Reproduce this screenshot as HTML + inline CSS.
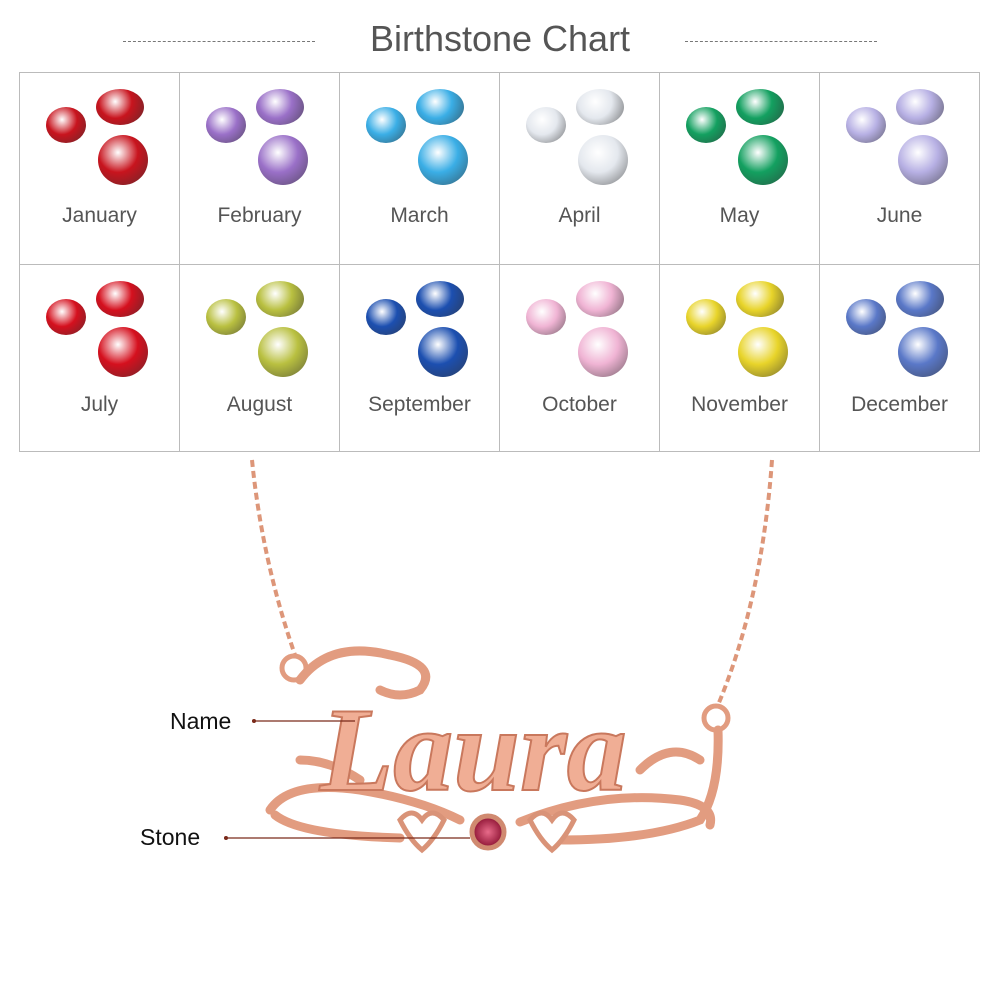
<!DOCTYPE html>
<html><head><meta charset="utf-8"><style>
body{margin:0;width:1000px;height:1000px;background:#fff;position:relative;overflow:hidden;font-family:"Liberation Sans",sans-serif}
.t{position:absolute;top:18px;left:0;width:1000px;text-align:center;font-size:36px;color:#555}
.d{position:absolute;top:41px;width:192px;border-top:1px dashed #777}
table{position:absolute;left:19px;top:72px;border-collapse:collapse}
td{border:1px solid #bbb;width:159px;height:190px;position:relative;padding:0}
.l{position:absolute;left:0;width:100%;text-align:center;font-size:21px;color:#555}
.g{position:absolute;border-radius:50%}
</style></head><body>
<div class="t">Birthstone Chart</div>
<div class="d" style="left:123px"></div><div class="d" style="left:685px"></div>
<table id="tb"></table>
<svg width="1000" height="1000" style="position:absolute;left:0;top:0">
<defs>
<radialGradient id="st"><stop offset="0" stop-color="#e86b8a"/><stop offset="1" stop-color="#8a1030"/></radialGradient></defs>
<g fill="none" stroke="#dd9679" stroke-width="4">
<path d="M252 460 Q262 560 295 655" stroke-dasharray="7 4"/>
<path d="M772 460 Q762 600 718 705" stroke-dasharray="7 4"/>
</g>
<g fill="none" stroke="#e29c80" stroke-width="9" stroke-linecap="round">
<circle cx="294" cy="668" r="12" stroke-width="5"/>
<circle cx="716" cy="718" r="12" stroke-width="5"/>
<path d="M300 680 Q330 640 390 655 Q440 665 420 690 Q400 700 380 690"/>
<path d="M270 810 Q290 780 360 790 Q420 800 460 820"/>
<path d="M275 815 Q300 835 400 838"/>
<path d="M520 822 Q600 790 680 800 Q715 805 710 825"/>
<path d="M560 840 Q650 840 700 820 Q720 790 718 730"/>
<path d="M300 760 Q330 760 360 780"/>
<path d="M640 770 Q670 740 700 760"/>
</g>
<text x="320" y="790" font-family="Liberation Serif,serif" font-style="italic" font-weight="bold" font-size="120" fill="#f0ae95" stroke="#c9785d" stroke-width="2">Laura</text>
<path d="M400 820 q12-14 22 0 q10-14 22 0 q-10 20 -22 30 q-12-10 -22-30Z M530 820 q12-14 22 0 q10-14 22 0 q-10 20 -22 30 q-12-10 -22-30Z" fill="#fff" stroke="#d99378" stroke-width="5"/>
<circle cx="488" cy="832" r="16" fill="url(#st)" stroke="#d08a70" stroke-width="5"/>
<g stroke="#7a2a1a" stroke-width="1.2"><line x1="252" y1="721" x2="355" y2="721"/><line x1="224" y1="838" x2="470" y2="838"/></g>
<circle cx="254" cy="721" r="2" fill="#7a2a1a"/><circle cx="226" cy="838" r="2" fill="#7a2a1a"/>
<text x="170" y="729" font-size="23" fill="#111">Name</text>
<text x="140" y="845" font-size="23" fill="#111">Stone</text>
</svg>
<script>
var m=["January","February","March","April","May","June","July","August","September","October","November","December"];
var c=["#c8141e","#9a70c8","#3aaee6","#e4e8ee","#13a060","#b7b0e4","#d5101e","#b9c040","#1c4fb0","#f0b4d4","#e8d42a","#5a78c8"];
var tb=document.getElementById("tb"),h="";
for(var r=0;r<2;r++){h+="<tr>";for(var k=0;k<6;k++){var i=r*6+k,col=c[i],ly=r?128:131;
var bg='background:radial-gradient(circle at 40% 35%,#fff 0,'+col+' 45%,#333 130%)';
h+='<td style="height:'+(r?186:191)+'px">'+
'<div class="g" style="left:26px;top:34px;width:40px;height:36px;'+bg+'"></div>'+
'<div class="g" style="left:76px;top:16px;width:48px;height:36px;'+bg+'"></div>'+
'<div class="g" style="left:78px;top:62px;width:50px;height:50px;'+bg+'"></div>'+
'<div class="l" style="top:'+ly+'px">'+m[i]+'</div></td>';}
h+="</tr>";}
tb.innerHTML=h;
</script>
</body></html>
